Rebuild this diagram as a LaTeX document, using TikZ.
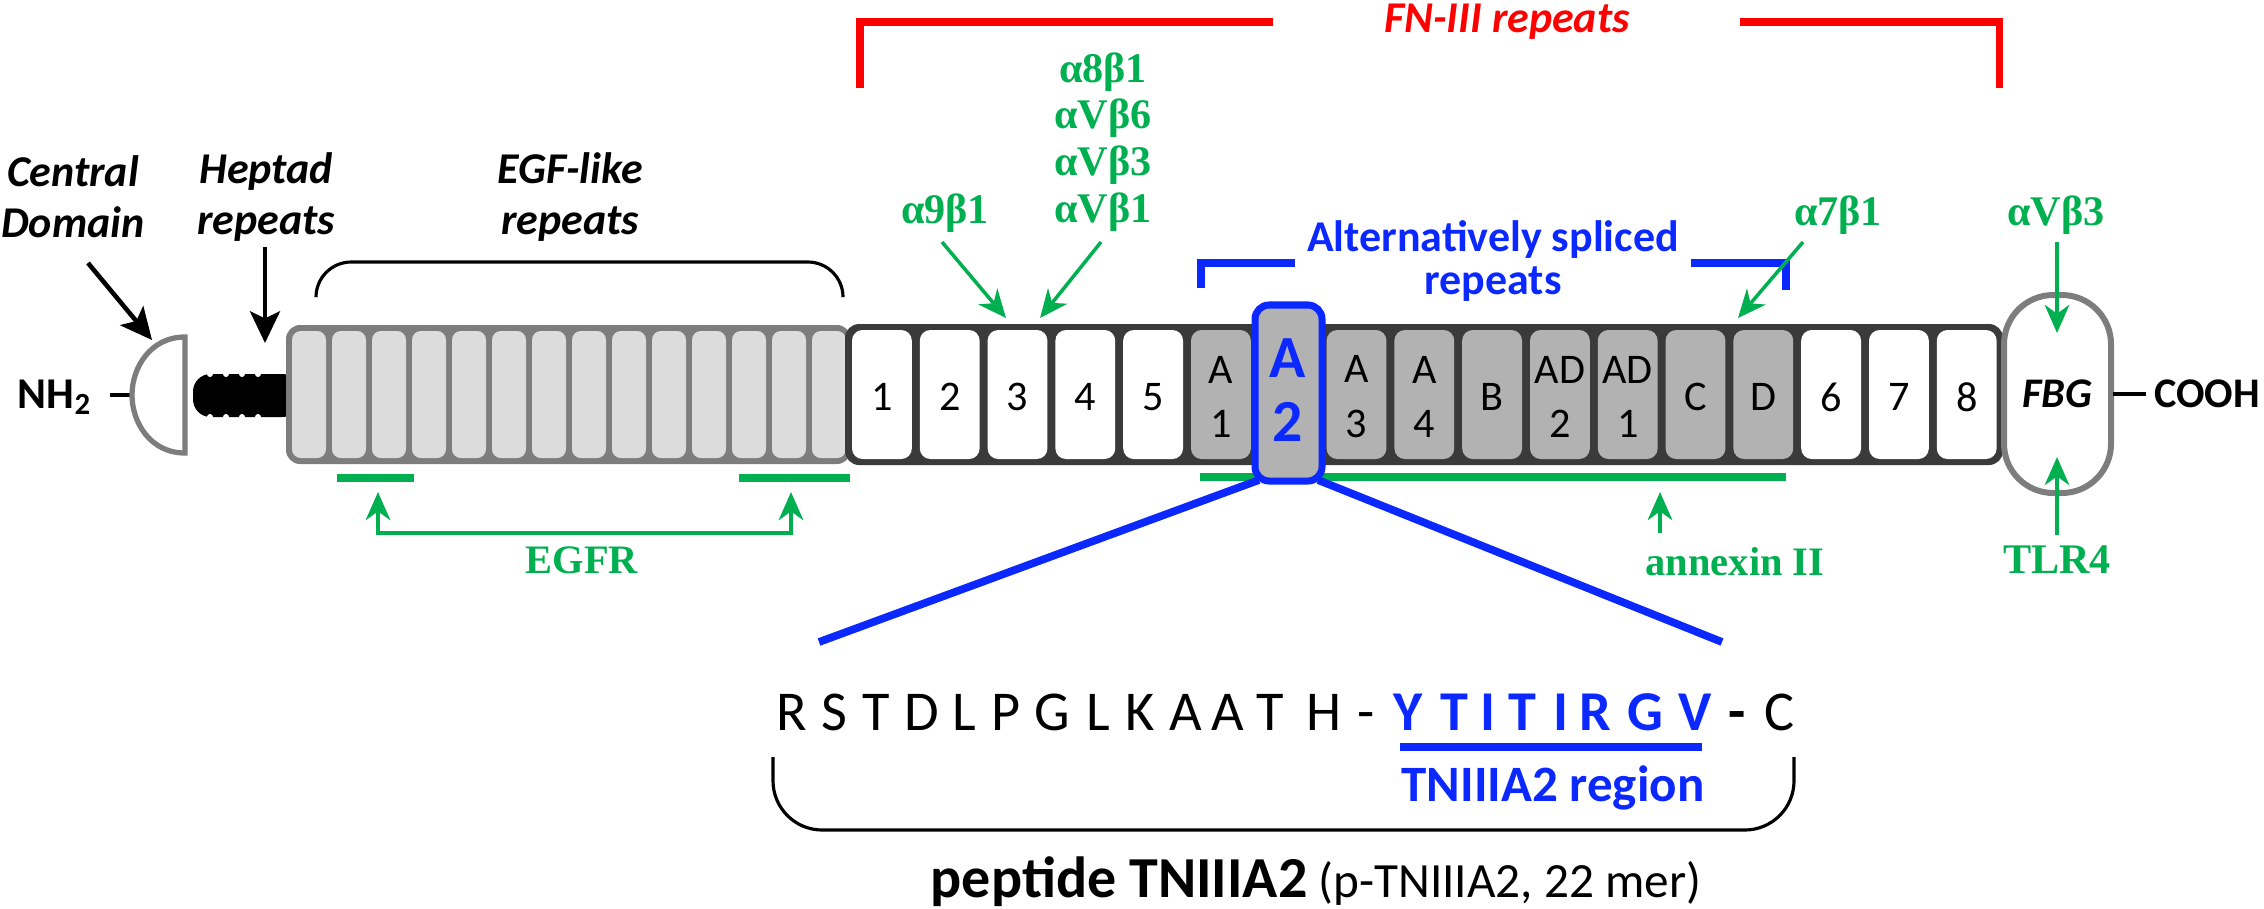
\documentclass[tikz,border=0pt]{standalone}
\usepackage{fontspec}
\setmainfont{Carlito}
\newfontfamily\tnr{Liberation Serif}
\usetikzlibrary{arrows.meta}
\definecolor{tgreen}{RGB}{0,176,80}
\definecolor{tblue}{RGB}{10,40,255}
\definecolor{tred}{RGB}{255,0,0}
\definecolor{boxdark}{RGB}{58,58,58}
\definecolor{splfill}{RGB}{178,178,178}
\definecolor{egffill}{RGB}{220,220,220}
\definecolor{egfedge}{RGB}{125,125,125}
\begin{document}
\begin{tikzpicture}[x=0.01cm,y=-0.01cm,
  domlab/.style={font=\fontsize{12.5}{14.5}\selectfont\bfseries\itshape, align=center, inner sep=0pt},
  glab/.style={font=\tnr\bfseries\fontsize{12}{13.3}\selectfont, text=tgreen, align=center, inner sep=0pt},
  garrow/.style={draw=tgreen, line width=1pt, -{Stealth[length=8pt,width=7pt,inset=2.5pt]}},
  gdarrow/.style={draw=tgreen, line width=1pt, {Stealth[length=8pt,width=7pt,inset=2.5pt]}-{Stealth[length=8pt,width=7pt,inset=2.5pt]}},
  barrow/.style={draw=black, line width=1.3pt, -{Stealth[length=9pt,width=8.5pt,inset=2pt]}},
  gbar/.style={draw=tgreen, line width=2.3pt},
  boxlab/.style={font=\fontsize{12}{15.6}\selectfont, align=center, inner sep=0pt},
  seq/.style={font=\fontsize{16}{18}\selectfont, inner sep=0pt, anchor=base},
  seqb/.style={font=\fontsize{16}{18}\selectfont\bfseries, text=tblue, inner sep=0pt, anchor=base},
  bline/.style={draw=tblue, line width=2.2pt},
  rline/.style={draw=tred, line width=2pt},
]
\useasboundingbox (0,0) rectangle (2264,908);

% ---- top-left labels and arrows
\node[domlab] (cdom) at (73,197) {Central\\Domain};
\node[domlab] (hept) at (266,197) {Heptad\\repeats};
\node[domlab] (egfl) at (570,197) {EGF-like\\repeats};
\coordinate (cdT) at (88,263); \coordinate (cdH) at (152,340);
\coordinate (hpT) at (265,247); \coordinate (hpH) at (265,343);
\draw[barrow] (cdT) -- (cdH);
\draw[barrow] (hpT) -- (hpH);

% ---- NH2 and central domain dome
\node[font=\fontsize{12.5}{15}\selectfont\bfseries, inner sep=0pt] (nh2) at (55,397) {NH\textsubscript{2}};
\coordinate (nhR) at (110,395);
\coordinate (domeL) at (132,395);
\draw[line width=0.9pt] (nhR) -- (domeL);
\draw[egfedge, line width=1.5pt, fill=white] (185,337) .. controls (150,337) and (132,368) .. (132,395) .. controls (132,422) and (150,453) .. (185,453) -- cycle;

% ---- heptad repeats
\fill[black, rounded corners=5pt] (193,374) rectangle (300,417);
\foreach \x in {210,226,242,258} {
  \fill[white] (\x,374) circle[radius=3];
  \fill[white] (\x,417) circle[radius=3];
}

% ---- EGF-like repeats
\fill[egfedge, rounded corners=4pt] (286,325) rectangle (851,464);
\foreach \i in {0,...,13} {
  \fill[egffill, rounded corners=2.5pt] ({289+40*\i+3},331) rectangle ({289+40*\i+37},458);
}
\coordinate (ebL) at (316,297); \coordinate (ebR) at (843,297);
\draw[line width=0.9pt, rounded corners=10pt] (ebL) -- (316,262) -- (843,262) -- (ebR);

% ---- green binding bars (behind A2)
\draw[gbar] (337,478) -- (414,478);
\draw[gbar] (739,478) -- (850,478);
\draw[gbar] (1200,477) -- (1786,477);

% ---- FN-III repeats
\fill[boxdark, rounded corners=4pt] (845,324) rectangle (2003,465);
\foreach \lab/\fc [count=\i from 0] in {1/white,2/white,3/white,4/white,5/white,{A\\1}/splfill,{}/splfill,{A\\3}/splfill,{A\\4}/splfill,B/splfill,{AD\\2}/splfill,{AD\\1}/splfill,C/splfill,D/splfill,6/white,7/white,8/white} {
  \fill[\fc, rounded corners=3pt] ({848+67.8*\i+4},330) rectangle ({848+67.8*(\i+1)-4},459);
  \node[boxlab] (b\i) at ({848+67.8*(\i+0.5)},397) {\lab};
}
% highlighted A2
\draw[tblue, line width=2pt, fill=splfill, rounded corners=4pt] (1255,305) rectangle (1322,481);
\node[font=\fontsize{17}{18}\selectfont\bfseries, text=tblue, align=center, inner sep=0pt] (a2) at (1288,390) {A\\2};

% ---- FBG
\draw[egfedge, line width=1.7pt, fill=white, rounded corners=14pt] (2004,295) rectangle (2111,493);
\node[font=\fontsize{12}{14}\selectfont\bfseries\itshape, inner sep=0pt] (fbg) at (2057,394) {FBG};
\coordinate (fbgR) at (2113,394); \coordinate (coL) at (2146,394);
\draw[line width=0.9pt] (fbgR) -- (coL);
\node[font=\fontsize{12}{14}\selectfont\bfseries, inner sep=0pt] (cooh) at (2207,394) {COOH};

% ---- FN-III red bracket
\node[font=\fontsize{12.5}{14}\selectfont\bfseries\itshape, text=tred, inner sep=0pt] (fn3) at (1507,22) {FN-III repeats};
\draw[rline] (860,88) -- (860,22) -- (1273,22);
\draw[rline] (1740,22) -- (1999,22) -- (1999,88);

% ---- Alternatively spliced bracket
\node[font=\fontsize{12.5}{12.3}\selectfont\bfseries, text=tblue, align=center, inner sep=0pt] (alt) at (1493,261) {Alternatively spliced\\repeats};
\draw[bline] (1201,288) -- (1201,263) -- (1295,263);
\draw[bline] (1691,263) -- (1786,263) -- (1786,290);

% ---- integrin labels
\node[glab] (a9) at (945,213) {α9β1};
\node[glab] (av) at (1103,142) {α8β1\\αVβ6\\αVβ3\\αVβ1};
\node[glab] (a7) at (1838,215) {α7β1};
\node[glab] (avf) at (2056,215) {αVβ3};
\coordinate (a9T) at (942,242); \coordinate (a9H) at (1006,318);
\coordinate (avT) at (1101,242); \coordinate (avH) at (1040,318);
\coordinate (a7T) at (1803,242); \coordinate (a7H) at (1738,318);
\coordinate (avfT) at (2057,242); \coordinate (avfH) at (2057,333);
\draw[garrow] (a9T) -- (a9H);
\draw[garrow] (avT) -- (avH);
\draw[garrow] (a7T) -- (a7H);
\draw[garrow] (avfT) -- (avfH);

% ---- TLR4
\node[glab] (tlr) at (2057,560) {TLR4};
\coordinate (tlT) at (2057,535); \coordinate (tlH) at (2057,457);
\draw[garrow] (tlT) -- (tlH);

% ---- EGFR
\node[glab, font=\tnr\bfseries\fontsize{11.5}{13}\selectfont] (egfr) at (582,560) {EGFR};
\coordinate (egA) at (378,492); \coordinate (egB) at (791,492);
\draw[gdarrow] (egA) -- (378,533) -- (791,533) -- (egB);

% ---- annexin II
\node[glab, font=\tnr\bfseries\fontsize{11.5}{13}\selectfont] (anx) at (1735,562) {annexin II};
\coordinate (anT) at (1660,533); \coordinate (anH) at (1660,492);
\draw[garrow] (anT) -- (anH);

% ---- zoom lines from A2
\coordinate (a2L) at (1259,480); \coordinate (a2R) at (1318,480);
\coordinate (sqL) at (819,642); \coordinate (sqR) at (1722,642);
\draw[bline] (a2L) -- (sqL);
\draw[bline] (a2R) -- (sqR);

% ---- sequence
\foreach \l/\x [count=\i] in {R/792,S/834,T/876,D/922,L/964,P/1006,G/1052,L/1098,K/1140,A/1186,A/1228,T/1270,H/1324,-/1366} {
  \node[seq] (s\i) at (\x,730) {\l};
}
\foreach \l/\x [count=\i from 15] in {Y/1408,T/1454,I/1488,T/1522,I/1561,R/1595,G/1645,V/1695} {
  \node[seqb] (s\i) at (\x,730) {\l};
}
\node[seq, font=\fontsize{16}{18}\selectfont\bfseries] (s23) at (1737,730) {-};
\node[seq] (s24) at (1779,730) {C};
\draw[bline] (1400,747) -- (1702,747);
\node[font=\fontsize{14.5}{16}\selectfont\bfseries, text=tblue, inner sep=0pt] (reg) at (1553,788) {TNIIIA2 region};
\draw[line width=0.9pt, rounded corners=14pt] (773,757) -- (773,830) -- (1794,830) -- (1794,757);
\node[font=\fontsize{14}{16}\selectfont, inner sep=0pt] (pep) at (1316,882) {{\fontsize{16.5}{18}\selectfont\bfseries peptide TNIIIA2} (p-TNIIIA2, 22 mer)};
\end{tikzpicture}
\end{document}
